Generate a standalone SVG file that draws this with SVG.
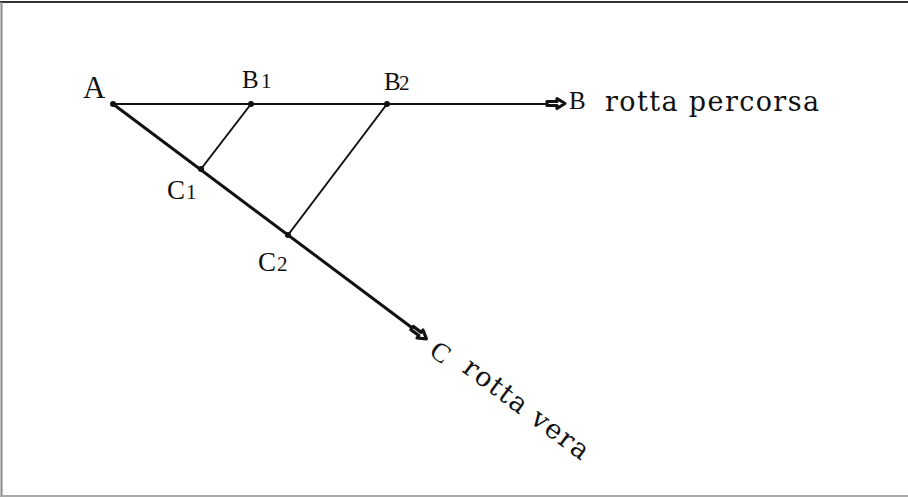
<svg xmlns="http://www.w3.org/2000/svg" width="908" height="497" viewBox="0 0 908 497">
<style>
.lbl{font-family:"Liberation Serif","Times New Roman",serif;fill:#111}
.txt{font-family:"DejaVu Serif","Liberation Serif",serif;fill:#111;font-size:27px}
.big{font-size:31px}
.cap{font-size:25px}
.capc{font-size:27px}
.sub{font-size:21px}
.dot{fill:#111}
.ln{stroke:#111;fill:none;stroke-linecap:round}
.arr{fill:#fff;stroke:#111;stroke-width:3.2;stroke-linejoin:round}
</style>
<defs>
<path id="blk" class="arr" d="M0,-2 L10,-2 L10,-5 L18,0 L10,5 L10,2 L0,2 Z"/>
</defs>
<rect x="0" y="0" width="908" height="497" fill="#fff"/>
<g id="frame">
<line x1="0" y1="2" x2="908" y2="2" stroke="#333" stroke-width="2"/>
<line x1="1.5" y1="2" x2="1.5" y2="497" stroke="#888" stroke-width="2"/>
<line x1="0" y1="496" x2="908" y2="496" stroke="#aaa" stroke-width="2"/>
</g>
<g id="connectors">
<line class="ln" x1="113" y1="104" x2="545" y2="104" stroke-width="2"/>
<line class="ln" x1="113" y1="104" x2="411" y2="327" stroke-width="3"/>
<line class="ln" x1="251" y1="104" x2="201" y2="169" stroke-width="2"/>
<line class="ln" x1="387" y1="104" x2="288" y2="235" stroke-width="2"/>
<use href="#blk" transform="translate(547,103.5)"/>
<use href="#blk" transform="translate(412,328) rotate(36.8)"/>
</g>
<g id="A">
<circle class="dot" cx="113" cy="104" r="3"/>
<text class="lbl big" x="83" y="98">A</text>
</g>
<g id="B1">
<circle class="dot" cx="251" cy="104" r="3"/>
<text class="lbl cap" x="242" y="88">B<tspan class="sub" x="261">1</tspan></text>
</g>
<g id="B2">
<circle class="dot" cx="387" cy="104" r="3"/>
<text class="lbl cap" x="384" y="90">B<tspan class="sub" x="399">2</tspan></text>
</g>
<g id="C1">
<circle class="dot" cx="201" cy="169" r="3"/>
<text class="lbl capc" x="167" y="199">C<tspan class="sub" x="186">1</tspan></text>
</g>
<g id="C2">
<circle class="dot" cx="288" cy="235" r="3"/>
<text class="lbl capc" x="258" y="271">C<tspan class="sub" x="277">2</tspan></text>
</g>
<g id="B">
<text class="lbl cap" x="569" y="109">B</text>
<text class="txt" x="605" y="111" textLength="214" lengthAdjust="spacing">rotta percorsa</text>
</g>
<g id="C">
<text class="lbl capc" transform="translate(428,354) rotate(36.8)">C</text>
<text class="txt" transform="translate(461,371) rotate(36.8)" textLength="150" lengthAdjust="spacing">rotta vera</text>
</g>
</svg>
